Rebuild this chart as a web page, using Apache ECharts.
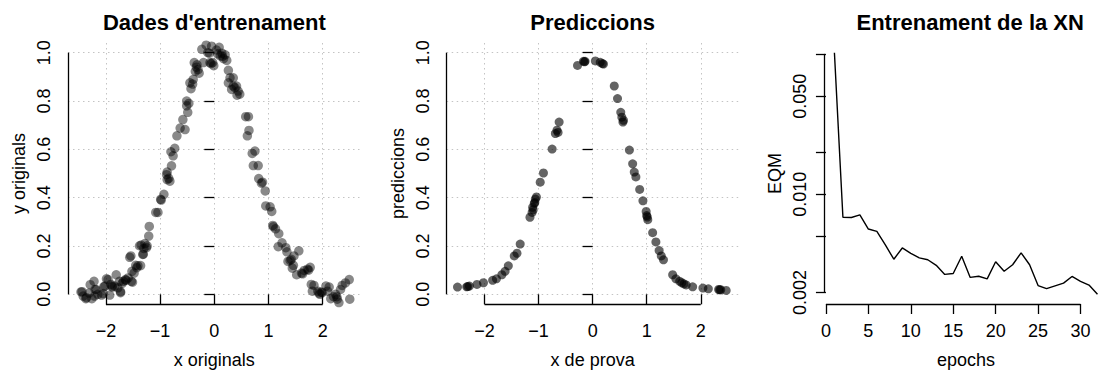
<!DOCTYPE html>
<html>
<head>
<meta charset="utf-8">
<script src="https://cdn.jsdelivr.net/npm/echarts@6/dist/echarts.min.js"></script>
<style>
html, body { margin: 0; padding: 0; background: #fff; }
#chart { width: 1108px; height: 374px; }
</style>
</head>
<body>
<div id="chart"></div>
<script>
// Training sample: inputs and noisy targets
const xTrain = [
  -2.44, -2.42, -2.36, -2.26, -2.21, -2.22, -2.20, -2.08, -2.05, -2.02,
  -1.96, -1.93, -1.91, -1.88, -1.84, -1.81, -1.78, -1.75, -1.73, -1.68,
  -1.64, -1.59, -1.53, -1.52, -1.48, -1.36, -1.56, -1.32, -1.28, -1.38,
  -1.25, -1.24, -1.21, -1.20, -1.04, -0.99, -0.93, -0.87, -0.82, -0.88,
  -2.46, -2.37, -2.18, -2.04, -1.99, -1.89, -1.73, -1.63, -1.54, -1.51,
  -1.41, -1.35, -1.31, -1.08, -2.31, -2.15, -1.70, -1.45, -1.43, -1.30, -2.29,
  -0.87, -0.79, -0.80, -0.73, -0.76, -0.69, -0.63, -0.54, -0.58, -0.49,
  -0.51, -0.51, -0.43, -0.45, -0.39, -0.35, -0.30, -0.37, -0.32, -0.20,
  -0.08, -0.03, -0.01, -0.23, -0.15, -0.05, -0.09, 0.04, 0.09, 0.14,
  0.11, 0.20, 0.23, 0.26, 0.29, 0.35, 0.26, 0.35, 0.32, 0.41,
  0.44, 0.47, 0.42, -0.33, -0.28, 0.15, 0.17, -0.12, 0.06, -0.40,
  0.38, -0.47, -0.84, -0.98, -0.06,
  0.58, 0.63, 0.64, 0.61, 0.70, 0.75, 0.72, 0.81, 0.82, 0.89,
  0.94, 0.95, 1.03, 1.06, 1.08, 1.13, 1.19, 1.18, 1.25, 1.32,
  1.34, 1.36, 1.42, 1.44, 1.47, 1.56, 1.52, 1.61, 1.66, 1.72,
  1.77, 1.79, 1.84, 1.81, 1.91, 1.95, 1.99, 2.06, 2.09, 2.15,
  2.20, 2.24, 2.27, 2.30, 2.33, 2.36, 2.42, 2.49, 2.50,
  0.87, 1.09, 1.40, 1.46, 1.74, 1.93, 2.26, 1.63, 1.98, 2.12
];
const yTrain = [
  0.011, -0.007, -0.014, -0.018, -0.007, 0.054, 0.020, -0.003, 0.003, 0.034,
  0.061, -0.003, 0.041, 0.030, 0.034, 0.081, 0.027, 0.054, 0.011, 0.054,
  0.061, 0.068, 0.054, 0.095, 0.088, 0.119, 0.153, 0.165, 0.210, 0.201,
  0.193, 0.201, 0.241, 0.281, 0.339, 0.393, 0.414, 0.475, 0.468, 0.495,
  0.010, -0.018, 0.020, 0.031, 0.064, 0.034, 0.007, 0.058, 0.159, 0.050,
  0.118, 0.204, 0.166, 0.339, 0.005, 0.000, 0.045, 0.120, 0.110, 0.190, 0.040,
  0.506, 0.532, 0.590, 0.604, 0.573, 0.656, 0.688, 0.682, 0.723, 0.753,
  0.780, 0.800, 0.851, 0.875, 0.889, 0.923, 0.930, 0.959, 0.950, 0.959,
  0.959, 0.959, 0.946, 1.014, 1.031, 1.027, 0.998, 1.011, 1.022, 0.998,
  0.987, 0.991, 0.968, 0.927, 0.896, 0.896, 0.875, 0.862, 0.848, 0.862,
  0.841, 0.828, 0.824, 0.940, 0.915, 0.985, 0.975, 1.000, 0.995, 0.870,
  0.855, 0.790, 0.480, 0.390, 0.955,
  0.735, 0.735, 0.678, 0.656, 0.583, 0.593, 0.533, 0.533, 0.479, 0.464,
  0.428, 0.366, 0.362, 0.343, 0.285, 0.271, 0.251, 0.197, 0.213, 0.193,
  0.176, 0.136, 0.145, 0.108, 0.159, 0.180, 0.081, 0.088, 0.099, 0.104,
  0.112, 0.041, 0.037, 0.013, 0.013, 0.000, 0.007, 0.034, 0.013, -0.018,
  -0.010, 0.000, -0.020, -0.034, 0.020, 0.037, 0.047, 0.061, -0.020,
  0.460, 0.280, 0.140, 0.120, 0.100, 0.005, -0.010, 0.085, 0.010, 0.030
];

// Test inputs and network predictions
const xTest = [
  -2.50, -2.33, -2.28, -2.14, -2.02, -1.85, -1.78, -1.68, -1.62, -1.56,
  -1.45, -1.40, -1.34, -1.16, -1.12, -1.11, -1.08, -1.06, -1.04, -0.97,
  -0.91, -0.75, -0.69, -0.66, -0.62, -0.28, -0.17, -0.14, 0.05, 0.14,
  0.20, 0.40, 0.46, 0.52, 0.54, 0.56, 0.68, 0.74, 0.77, 0.80,
  0.87, 0.93, 0.99, 1.00, 1.02, 1.11, 1.17, 1.23, 1.27, 1.31,
  1.48, 1.54, 1.61, 1.65, 1.69, 1.73, 1.85, 2.04, 2.14, 2.33,
  2.37, 2.47, -1.10, -1.07, -0.15, 0.18, 0.57, -2.31, 1.01, 2.35, -0.64
];
const yPred = [
  0.030, 0.031, 0.034, 0.041, 0.048, 0.058, 0.064, 0.081, 0.095, 0.118,
  0.159, 0.170, 0.208, 0.319, 0.339, 0.360, 0.376, 0.394, 0.403, 0.464,
  0.502, 0.601, 0.665, 0.679, 0.713, 0.947, 0.964, 0.964, 0.966, 0.960,
  0.953, 0.862, 0.810, 0.753, 0.733, 0.713, 0.597, 0.540, 0.506, 0.486,
  0.434, 0.387, 0.343, 0.326, 0.309, 0.255, 0.217, 0.181, 0.159, 0.143,
  0.081, 0.064, 0.054, 0.048, 0.043, 0.039, 0.031, 0.026, 0.023, 0.020,
  0.019, 0.016, 0.350, 0.380, 0.962, 0.955, 0.720, 0.032, 0.320, 0.019, 0.670
];

// Training error (mean squared error) per epoch
const epochs = [
  1, 2, 3, 4, 5, 6, 7, 8, 9, 10, 11, 12, 13, 14, 15, 16,
  17, 18, 19, 20, 21, 22, 23, 24, 25, 26, 27, 28, 29, 30, 31, 32
];
const eqm = [
  0.102, 0.00687, 0.00684, 0.00713, 0.00566, 0.00545, 0.00436, 0.00345,
  0.00415, 0.00380, 0.00353, 0.00342, 0.00312, 0.00269, 0.00273, 0.00362,
  0.00256, 0.00261, 0.00250, 0.00331, 0.00283, 0.00315, 0.00383, 0.00315,
  0.00224, 0.00213, 0.00223, 0.00233, 0.00260, 0.00240, 0.00226, 0.00194
];

// Tick positions and labels
const xTicks = [-2, -1, 0, 1, 2];
const yTicks = [0, 0.2, 0.4, 0.6, 0.8, 1];
const epochTicks = [0, 5, 10, 15, 20, 25, 30];
const eqmTicks = [0.1, 0.05, 0.02, 0.01, 0.005, 0.002];
const eqmLabels = [0.05, 0.01, 0.002];

const FONT = '"Liberation Sans", Arial, Helvetica, sans-serif';

// R-style axis limits: data range widened by 4% on each side
function paddedRange(values) {
  const lo = Math.min.apply(null, values);
  const hi = Math.max.apply(null, values);
  const pad = 0.04 * (hi - lo);
  return [lo - pad, hi + pad];
}

const xLim = [-2.7, 2.7];
const yLim = [-0.04, 1.04];
const epochLim = paddedRange(epochs);
const logEqm = eqm.map(v => Math.log10(v));
const eqmLim = paddedRange(logEqm);

const minus = v => String(v).replace('-', '\u2212');

function valueAxis(gridIndex, lim, ticks, labels, formatter, name, nameGap, grid, vertical) {
  return {
    type: 'value',
    gridIndex: gridIndex,
    min: lim[0],
    max: lim[1],
    name: name,
    nameLocation: 'middle',
    nameGap: nameGap,
    nameRotate: vertical ? 90 : 0,
    nameTextStyle: { fontFamily: FONT, fontSize: 18, color: '#000' },
    axisLine: { show: false },
    axisTick: {
      show: true, inside: false, length: 10,
      customValues: ticks,
      lineStyle: { color: '#000', width: 1.3 }
    },
    axisLabel: {
      customValues: labels,
      formatter: formatter,
      rotate: vertical ? 90 : 0,
      margin: vertical ? 15 : 18,
      fontFamily: FONT, fontSize: 18, color: '#000'
    },
    splitLine: {
      show: grid,
      lineStyle: { color: '#c4c4c4', width: 1, type: [1.5, 3.5] }
    }
  };
}

// Axis lines drawn only between the first and last tick
function axisLines(xFrom, xTo, xAt, yFrom, yTo, yAt) {
  return {
    silent: true,
    symbol: ['none', 'none'],
    label: { show: false },
    emphasis: { disabled: true },
    lineStyle: { color: '#000', width: 1.3, type: 'solid' },
    data: [
      [{ coord: [xFrom, yAt] }, { coord: [xTo, yAt] }],
      [{ coord: [xAt, yFrom] }, { coord: [xAt, yTo] }]
    ]
  };
}

const titleStyle = { fontFamily: FONT, fontSize: 22, fontWeight: 'bold', color: '#000' };

const option = {
  animation: false,
  backgroundColor: '#fff',
  title: [
    { text: "Dades d'entrenament", left: 214.3, top: 11, textAlign: 'center', padding: 0, textStyle: titleStyle },
    { text: 'Prediccions', left: 592.6, top: 11, textAlign: 'center', padding: 0, textStyle: titleStyle },
    { text: 'Entrenament de la XN', left: 970.2, top: 11, textAlign: 'center', padding: 0, textStyle: titleStyle }
  ],
  grid: [
    { left: 68, right: 747.4, top: 43, bottom: 66 },
    { left: 446.7, right: 369.4, top: 43, bottom: 66 },
    { left: 823.9, right: -8.6, top: 43, bottom: 66 }
  ],
  xAxis: [
    valueAxis(0, xLim, xTicks, xTicks, minus, 'x originals', 47, true, false),
    valueAxis(1, xLim, xTicks, xTicks, minus, 'x de prova', 47, true, false),
    valueAxis(2, epochLim, epochTicks, epochTicks, minus, 'epochs', 47, false, false)
  ],
  yAxis: [
    valueAxis(0, yLim, yTicks, yTicks, v => v.toFixed(1), 'y originals', 40, true, true),
    valueAxis(1, yLim, yTicks, yTicks, v => v.toFixed(1), 'prediccions', 40, true, true),
    valueAxis(2, eqmLim, eqmTicks.map(Math.log10), eqmLabels.map(Math.log10),
      v => Math.pow(10, v).toFixed(3), 'EQM', 40, false, true)
  ],
  series: [
    {
      type: 'scatter',
      xAxisIndex: 0, yAxisIndex: 0,
      data: xTrain.map((x, i) => [x, yTrain[i]]),
      symbolSize: 9.5,
      itemStyle: { color: 'rgba(0,0,0,0.58)' },
      silent: true,
      markLine: axisLines(xTicks[0], xTicks[xTicks.length - 1], xLim[0],
        yTicks[0], yTicks[yTicks.length - 1], yLim[0])
    },
    {
      type: 'scatter',
      xAxisIndex: 1, yAxisIndex: 1,
      data: xTest.map((x, i) => [x, yPred[i]]),
      symbolSize: 9,
      itemStyle: { color: 'rgba(0,0,0,0.76)' },
      silent: true,
      markLine: axisLines(xTicks[0], xTicks[xTicks.length - 1], xLim[0],
        yTicks[0], yTicks[yTicks.length - 1], yLim[0])
    },
    {
      type: 'line',
      xAxisIndex: 2, yAxisIndex: 2,
      data: epochs.map((e, i) => [e, logEqm[i]]),
      showSymbol: false,
      symbol: 'none',
      lineStyle: { color: '#000', width: 1.4 },
      silent: true,
      markLine: axisLines(epochTicks[0], epochTicks[epochTicks.length - 1], epochLim[0],
        Math.log10(eqmTicks[eqmTicks.length - 1]), Math.log10(eqmTicks[0]), eqmLim[0])
    }
  ]
};

const chart = echarts.init(document.getElementById('chart'), null, { renderer: 'svg' });
chart.setOption(option);
</script>
</body>
</html>
